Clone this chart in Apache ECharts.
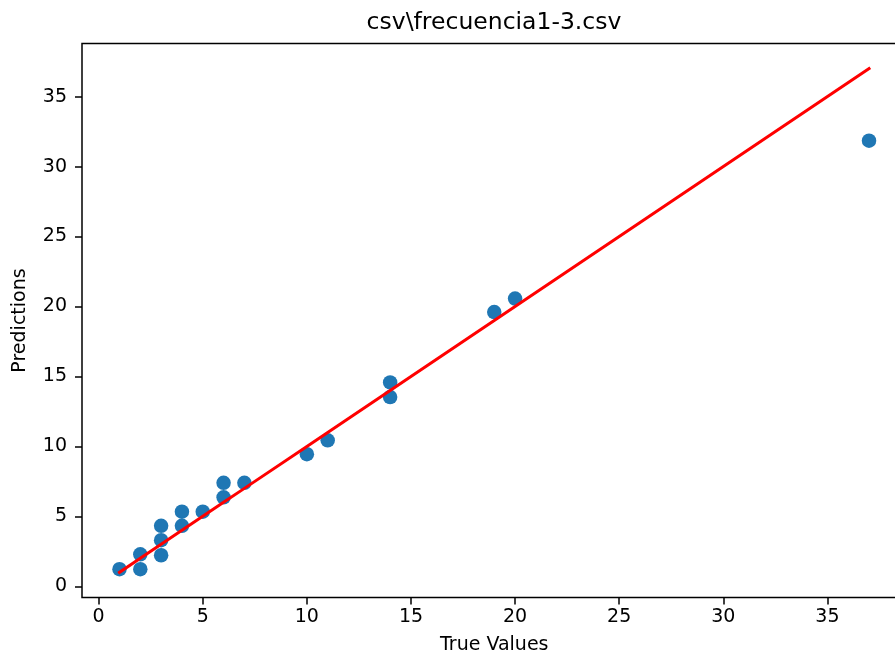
<!DOCTYPE html>
<html>
<head>
<meta charset="utf-8">
<script src="https://cdn.jsdelivr.net/npm/echarts@6/dist/echarts.min.js"></script>
<style>
html,body{margin:0;padding:0;background:#fff;}
#chart{width:895px;height:657px;}
</style>
</head>
<body>
<div id="chart"></div>
<script>
const titleText = 'csv\\frecuencia1-3.csv';
const trueValues = [1, 2, 2, 3, 3, 3, 4, 4, 5, 6, 6, 7, 10, 11, 14, 14, 19, 20, 37];
const predictions = [1.22, 1.22, 2.29, 2.22, 3.3, 4.32, 4.32, 5.33, 5.33, 6.36, 7.4, 7.4, 9.44, 10.44, 13.53, 14.57, 19.6, 20.57, 31.85];
const xTicks = [0, 5, 10, 15, 20, 25, 30, 35];
const yTicks = [0, 5, 10, 15, 20, 25, 30, 35];

const scatterData = trueValues.map((v, i) => [v, predictions[i]]);
const lineData = trueValues.slice().sort((a, b) => a - b).map(v => [v, v]);

const font = 'DejaVu Sans';
const chart = echarts.init(document.getElementById('chart'), null, {renderer: 'canvas'});
chart.setOption({
  animation: false,
  backgroundColor: '#ffffff',
  title: {
    text: titleText,
    left: 494,
    top: 11,
    padding: 0,
    textAlign: 'center',
    textStyle: {fontFamily: font, fontSize: 23.5, fontWeight: 'normal', color: '#000'}
  },
  grid: {
    left: 82, right: -11.5, top: 43.5, bottom: 59.5,
    show: true, borderColor: '#000', borderWidth: 1.5,
    containLabel: false, outerBoundsMode: 'none'
  },
  xAxis: {
    type: 'value', min: -0.8, max: 38.8,
    name: 'True Values', nameLocation: 'middle', nameGap: 38,
    nameTextStyle: {fontFamily: font, fontSize: 19, color: '#000'},
    axisLine: {show: false, onZero: false},
    splitLine: {show: false},
    axisTick: {show: true, inside: false, length: 7, lineStyle: {color: '#000', width: 1.5}, customValues: xTicks},
    axisLabel: {fontFamily: font, fontSize: 19, color: '#000', margin: 10, customValues: xTicks}
  },
  yAxis: {
    type: 'value', min: -0.8, max: 38.8,
    name: 'Predictions', nameLocation: 'middle', nameGap: 52,
    nameTextStyle: {fontFamily: font, fontSize: 19, color: '#000'},
    axisLine: {show: false, onZero: false},
    splitLine: {show: false},
    axisTick: {show: true, inside: false, length: 7, lineStyle: {color: '#000', width: 1.5}, customValues: yTicks},
    axisLabel: {fontFamily: font, fontSize: 19, color: '#000', margin: 15, customValues: yTicks}
  },
  series: [
    {
      type: 'scatter',
      data: scatterData,
      symbol: 'circle',
      symbolSize: 14.5,
      itemStyle: {color: '#1f77b4', opacity: 1},
      z: 2
    },
    {
      type: 'line',
      data: lineData,
      showSymbol: false,
      symbol: 'none',
      lineStyle: {color: '#ff0000', width: 3, cap: 'square'},
      z: 3
    }
  ]
});
</script>
</body>
</html>
